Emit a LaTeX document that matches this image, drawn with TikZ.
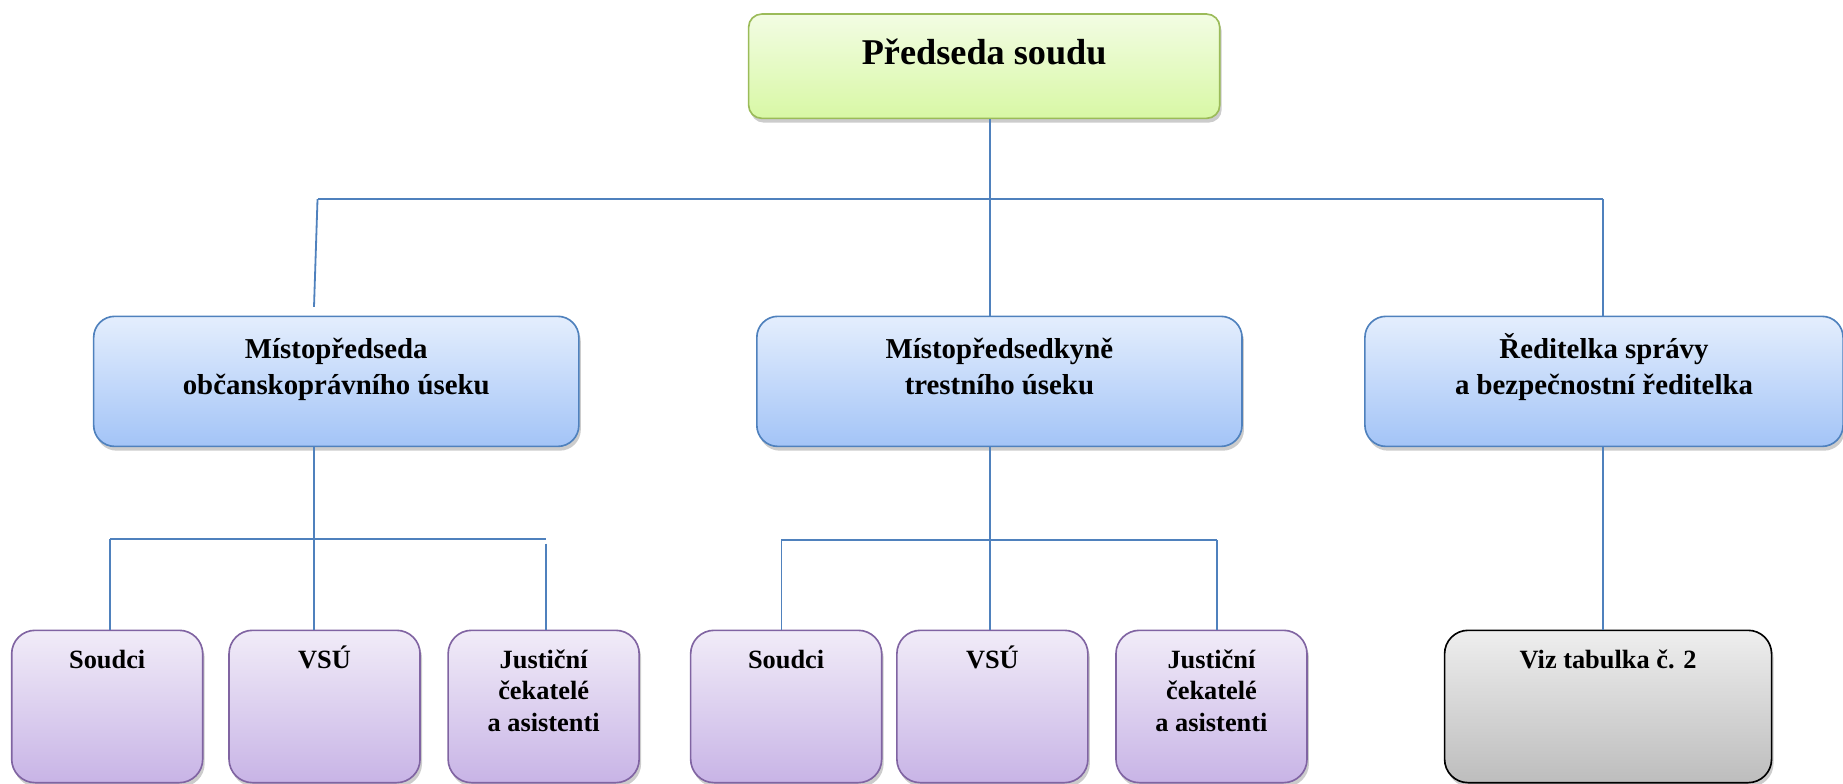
\documentclass[tikz,border=0pt]{standalone}
\usepackage{fontspec}
\setmainfont{Liberation Serif}
\usetikzlibrary{shadows}

\definecolor{linkblue}{HTML}{4F81BD}
\definecolor{greenedge}{HTML}{9BBB59}
\definecolor{greentop}{HTML}{F2FCE3}
\definecolor{greenbot}{HTML}{D8F8A5}
\definecolor{blueedge}{HTML}{4F81BD}
\definecolor{bluetop}{HTML}{E4EEFD}
\definecolor{bluebot}{HTML}{A3C4F7}
\definecolor{purpleedge}{HTML}{8064A2}
\definecolor{purpletop}{HTML}{F1ECF8}
\definecolor{purplebot}{HTML}{C8B4E6}
\definecolor{graytop}{HTML}{EEEEEE}
\definecolor{graybot}{HTML}{BDBDBD}

\begin{document}
\begin{tikzpicture}[x=0.025cm, y=-0.025cm]
    \tikzstyle{box}=[draw, line width=1pt, rounded corners=0.45cm, inner sep=0pt, drop shadow={shadow xshift=1.2pt, shadow yshift=-2.6pt, fill=black!40}]
    \tikzstyle{headbox}=[box, draw=greenedge, top color=greentop, bottom color=greenbot, rounded corners=0.28cm, minimum width=10.05cm, minimum height=2.225cm]
    \tikzstyle{deputybox}=[box, draw=blueedge, top color=bluetop, bottom color=bluebot, minimum width=10.35cm, minimum height=2.775cm]
    \tikzstyle{staffbox}=[box, draw=purpleedge, top color=purpletop, bottom color=purplebot, rounded corners=0.5cm, minimum width=4.075cm, minimum height=3.25cm]
    \tikzstyle{refbox}=[staffbox, draw=black, top color=graytop, bottom color=graybot, minimum width=6.975cm]
    \tikzstyle{headtext}=[anchor=base, yshift=-1.1cm, font=\bfseries\fontsize{22pt}{26pt}\selectfont]
    \tikzstyle{deputytext}=[anchor=base, yshift=-1.675cm, align=center, font=\bfseries\fontsize{17.5pt}{21.3pt}\selectfont]
    \tikzstyle{stafftext}=[anchor=base, yshift=-0.825cm, align=center, font=\bfseries\fontsize{16pt}{19.2pt}\selectfont]
    \tikzstyle{stafflong}=[stafftext, yshift=-1.35cm]
    \tikzstyle{link}=[draw=linkblue, line width=1.1pt]

    \useasboundingbox (0,0) rectangle (1573,669);

    % Draw the head of the court
    \node[headbox, label={[headtext]north:{Předseda soudu}}] (chief) at (840,56.5) {};

    % Draw the deputies and the director
    \node[deputybox, label={[deputytext]north:{Místopředseda\\občanskoprávního úseku}}] (civil) at (287,325.5) {};
    \node[deputybox, label={[deputytext]north:{Místopředsedkyně\\trestního úseku}}] (criminal) at (853,325.5) {};
    \node[deputybox, minimum width=10.2cm, label={[deputytext]north:{Ředitelka správy\\a bezpečnostní ředitelka}}] (admin) at (1369,325.5) {};

    % Draw the staff of both sections
    \node[staffbox, label={[stafftext]north:{Soudci}}] (judgesA) at (91.5,603) {};
    \node[staffbox, label={[stafftext]north:{VSÚ}}] (vsuA) at (277,603) {};
    \node[staffbox, label={[stafflong]north:{Justiční\\čekatelé\\a asistenti}}] (traineesA) at (464,603) {};
    \node[staffbox, label={[stafftext]north:{Soudci}}] (judgesB) at (671,603) {};
    \node[staffbox, label={[stafftext]north:{VSÚ}}] (vsuB) at (847,603) {};
    \node[staffbox, label={[stafflong]north:{Justiční\\čekatelé\\a asistenti}}] (traineesB) at (1034,603) {};
    \node[refbox, label={[stafftext]north:{Viz tabulka č. 2}}] (table) at (1372.5,603) {};

    % Connect the head to the second row
    \coordinate (topjoin) at (845,170);
    \coordinate (topleft) at (271,170);
    \coordinate (topright) at (1368,170);
    \coordinate (civiltop) at (268,262);
    \draw[link] (chief.south -| topjoin) -- (topjoin);
    \draw[link] (topleft) -- (topright);
    \draw[link] (topleft) -- (civiltop);
    \draw[link] (topjoin) -- (topjoin |- criminal.north);
    \draw[link] (topright) -- (topright |- admin.north);

    % Connect the civil section
    \coordinate (civiljoin) at (268,460);
    \coordinate (civilleft) at (94,460);
    \coordinate (civilright) at (466,460);
    \coordinate (civilgap) at (466,464);
    \draw[link] (civil.south -| civiljoin) -- (civiljoin |- vsuA.north);
    \draw[link] (civilleft) -- (civilright);
    \draw[link] (civilleft) -- (civilleft |- judgesA.north);
    \draw[link] (civilgap) -- (civilgap |- traineesA.north);

    % Connect the criminal section
    \coordinate (crimjoin) at (845,461);
    \coordinate (crimleft) at (667,461);
    \coordinate (crimright) at (1039,461);
    \draw[link] (criminal.south -| crimjoin) -- (crimjoin |- vsuB.north);
    \draw[link] (crimleft) -- (crimright);
    \draw[link] (crimleft) -- (crimleft |- judgesB.north);
    \draw[link] (crimright) -- (crimright |- traineesB.north);

    % Connect the administration
    \draw[link] (admin.south -| topright) -- (topright |- table.north);
\end{tikzpicture}
\end{document}
